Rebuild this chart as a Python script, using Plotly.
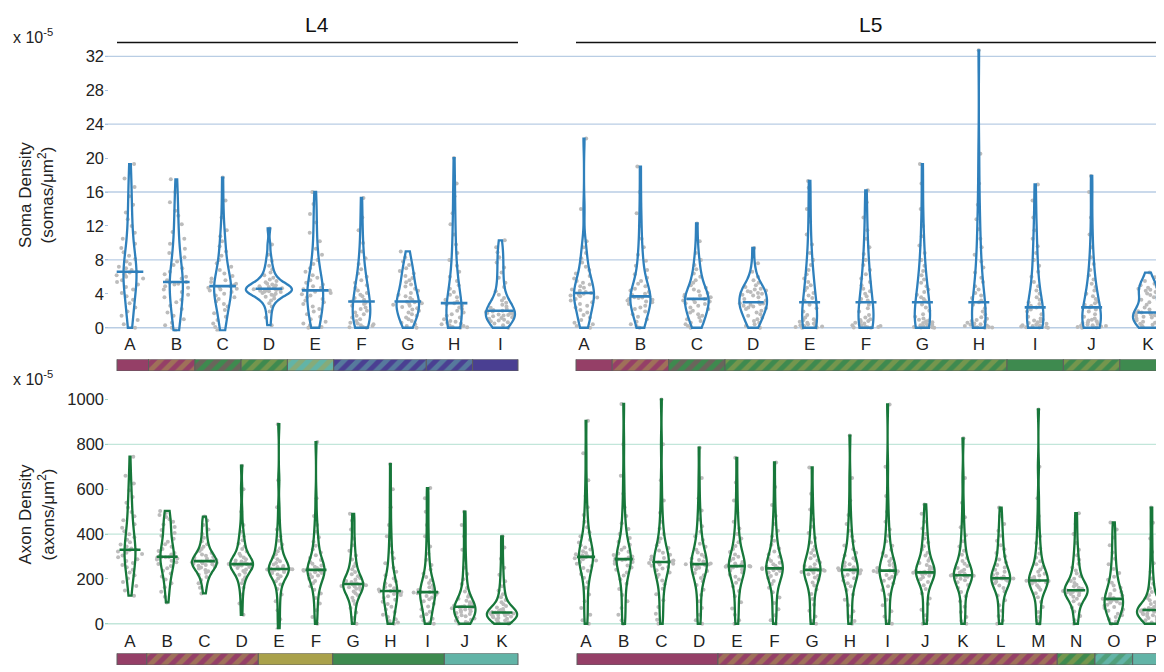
import numpy as np
import plotly.graph_objects as go

# ---------------- categories ----------------
L4_TOP_CATS = list("ABCDEFGHI")
L5_TOP_CATS = list("ABCDEFGHIJK")
L4_BOT_CATS = list("ABCDEFGHIJK")
L5_BOT_CATS = list("ABCDEFGHIJKLMNOP")

# ---------------- soma density (x 1e-5 somas/um^2), values read from the point clouds ----------------
SOMA_L4 = [
    [0.0, 0.4, 0.9, 1.4, 1.9, 2.4, 2.9, 3.3, 3.7, 4.1, 4.5, 4.8, 5.1, 5.4, 5.6, 5.8, 6.0, 6.2, 6.3, 6.5, 6.6, 6.8, 7.0, 7.2, 7.5, 7.8, 8.1, 8.5, 8.9, 9.4, 9.9, 10.5, 11.2, 12.0, 12.8, 13.6, 14.5, 15.5, 16.6, 17.6, 19.3],
    [-0.3, 0.0, 0.3, 0.6, 1.0, 1.4, 1.8, 2.2, 2.6, 3.0, 3.3, 3.6, 3.9, 4.2, 4.5, 4.7, 4.9, 5.1, 5.2, 5.3, 5.4, 5.6, 5.8, 6.0, 6.3, 6.6, 7.0, 7.4, 7.8, 8.3, 8.8, 9.3, 9.9, 10.5, 11.3, 12.2, 13.2, 13.8, 14.8, 16.0, 17.5],
    [-0.3, 0.1, 0.5, 0.9, 1.3, 1.7, 2.1, 2.5, 2.8, 3.1, 3.4, 3.6, 3.8, 4.0, 4.2, 4.4, 4.5, 4.6, 4.7, 4.8, 4.9, 5.0, 5.2, 5.4, 5.6, 5.8, 6.1, 6.4, 6.8, 7.2, 7.6, 8.0, 8.5, 9.0, 9.6, 10.2, 10.8, 11.5, 13.0, 15.0, 17.7],
    [0.3, 1.2, 1.9, 2.5, 2.9, 3.2, 3.45, 3.65, 3.8, 3.9, 4.0, 4.1, 4.2, 4.25, 4.3, 4.35, 4.4, 4.45, 4.5, 4.55, 4.6, 4.65, 4.7, 4.75, 4.8, 4.9, 5.0, 5.1, 5.2, 5.35, 5.5, 5.7, 5.9, 6.2, 6.5, 6.9, 7.3, 7.9, 8.6, 9.8, 11.7],
    [0.0, 0.1, 0.3, 0.5, 0.7, 1.0, 1.3, 1.6, 1.9, 2.2, 2.5, 2.8, 3.0, 3.2, 3.4, 3.6, 3.8, 3.95, 4.1, 4.25, 4.4, 4.55, 4.7, 4.9, 5.1, 5.3, 5.6, 5.9, 6.2, 6.6, 7.0, 7.5, 8.0, 8.6, 9.3, 10.2, 11.2, 12.4, 13.4, 14.6, 16.0],
    [0.0, 0.05, 0.1, 0.2, 0.3, 0.4, 0.5, 0.6, 0.8, 1.0, 1.2, 1.4, 1.6, 1.8, 2.0, 2.2, 2.4, 2.6, 2.8, 2.95, 3.1, 3.3, 3.5, 3.7, 3.9, 4.1, 4.4, 4.7, 5.0, 5.3, 5.6, 6.0, 6.4, 6.9, 7.5, 8.2, 9.0, 10.0, 11.5, 13.0, 15.3],
    [0.0, 0.2, 0.4, 0.6, 0.8, 1.0, 1.2, 1.4, 1.6, 1.8, 2.0, 2.15, 2.3, 2.45, 2.6, 2.7, 2.8, 2.9, 3.0, 3.05, 3.1, 3.3, 3.5, 3.7, 3.9, 4.1, 4.35, 4.6, 4.85, 5.1, 5.35, 5.6, 5.85, 6.1, 6.4, 6.7, 7.0, 7.4, 7.8, 8.3, 9.0],
    [0.0, 0.05, 0.1, 0.2, 0.3, 0.4, 0.5, 0.6, 0.7, 0.8, 1.0, 1.2, 1.4, 1.6, 1.8, 2.0, 2.2, 2.4, 2.6, 2.75, 2.9, 3.1, 3.3, 3.6, 3.9, 4.2, 4.6, 5.0, 5.5, 6.0, 6.6, 7.3, 8.0, 8.8, 9.8, 11.0, 12.2, 13.5, 15.5, 17.0, 20.0],
    [0.0, 0.3, 0.5, 0.65, 0.75, 0.85, 0.95, 1.05, 1.15, 1.25, 1.35, 1.45, 1.5, 1.55, 1.6, 1.68, 1.75, 1.8, 1.86, 1.92, 2.0, 2.1, 2.2, 2.35, 2.5, 2.7, 2.95, 3.2, 3.5, 3.9, 4.3, 4.8, 5.3, 5.9, 6.5, 7.1, 7.7, 8.3, 8.9, 9.5, 10.3],
]
SOMA_L5 = [
    [0.0, 0.2, 0.4, 0.6, 0.9, 1.2, 1.5, 1.8, 2.1, 2.4, 2.6, 2.8, 3.0, 3.2, 3.4, 3.55, 3.7, 3.8, 3.9, 4.0, 4.1, 4.2, 4.35, 4.5, 4.7, 4.9, 5.1, 5.3, 5.5, 5.8, 6.1, 6.4, 6.8, 7.2, 7.7, 8.2, 8.8, 9.5, 10.2, 14.0, 22.3],
    [0.0, 0.2, 0.4, 0.7, 1.0, 1.3, 1.6, 1.9, 2.2, 2.4, 2.6, 2.8, 3.0, 3.1, 3.2, 3.3, 3.4, 3.5, 3.55, 3.6, 3.7, 3.85, 4.0, 4.2, 4.4, 4.6, 4.9, 5.2, 5.5, 5.9, 6.3, 6.8, 7.3, 7.9, 8.6, 9.5, 10.5, 12.0, 13.5, 16.0, 19.0],
    [0.0, 0.2, 0.4, 0.6, 0.8, 1.0, 1.2, 1.4, 1.6, 1.8, 2.0, 2.2, 2.4, 2.6, 2.8, 2.9, 3.0, 3.1, 3.2, 3.3, 3.4, 3.5, 3.6, 3.7, 3.8, 3.9, 4.1, 4.3, 4.5, 4.7, 5.0, 5.3, 5.6, 6.0, 6.4, 6.9, 7.4, 8.0, 8.8, 10.2, 12.3],
    [0.0, 0.2, 0.4, 0.6, 0.8, 1.0, 1.2, 1.4, 1.6, 1.8, 2.0, 2.2, 2.3, 2.4, 2.5, 2.6, 2.7, 2.8, 2.85, 2.9, 3.0, 3.2, 3.4, 3.6, 3.8, 3.9, 4.0, 4.1, 4.2, 4.3, 4.4, 4.5, 4.6, 4.8, 5.0, 5.3, 5.6, 6.0, 6.6, 7.6, 9.4],
    [0.0, 0.03, 0.06, 0.1, 0.15, 0.2, 0.25, 0.3, 0.4, 0.5, 0.6, 0.7, 0.8, 0.9, 1.0, 1.2, 1.5, 1.9, 2.3, 2.7, 3.0, 3.2, 3.5, 3.8, 4.1, 4.4, 4.7, 5.0, 5.4, 5.8, 6.3, 6.8, 7.4, 8.0, 8.8, 9.8, 11.0, 12.5, 14.0, 16.5, 17.3],
    [0.0, 0.03, 0.06, 0.1, 0.15, 0.2, 0.25, 0.3, 0.4, 0.5, 0.6, 0.7, 0.8, 0.9, 1.0, 1.2, 1.5, 1.9, 2.3, 2.7, 3.0, 3.2, 3.4, 3.7, 4.0, 4.3, 4.6, 5.0, 5.4, 5.8, 6.3, 6.8, 7.4, 8.0, 8.7, 9.5, 10.5, 11.5, 13.0, 14.8, 16.2],
    [0.0, 0.03, 0.06, 0.1, 0.15, 0.2, 0.28, 0.36, 0.45, 0.55, 0.65, 0.75, 0.85, 0.95, 1.1, 1.3, 1.6, 2.0, 2.4, 2.75, 3.0, 3.2, 3.4, 3.6, 3.9, 4.2, 4.5, 4.9, 5.3, 5.7, 6.2, 6.7, 7.3, 8.0, 8.8, 9.7, 10.8, 12.0, 14.0, 17.0, 19.3],
    [0.0, 0.03, 0.06, 0.1, 0.15, 0.2, 0.27, 0.34, 0.42, 0.5, 0.6, 0.7, 0.8, 0.9, 1.05, 1.25, 1.55, 1.9, 2.3, 2.7, 3.0, 3.2, 3.5, 3.8, 4.1, 4.5, 4.9, 5.4, 5.9, 6.5, 7.1, 7.8, 8.6, 9.5, 10.5, 11.6, 12.8, 14.5, 17.0, 20.5, 32.7],
    [0.0, 0.03, 0.06, 0.1, 0.15, 0.2, 0.25, 0.3, 0.38, 0.46, 0.55, 0.65, 0.75, 0.85, 0.95, 1.1, 1.3, 1.6, 1.9, 2.15, 2.4, 2.6, 2.8, 3.0, 3.3, 3.6, 4.0, 4.4, 4.9, 5.4, 6.0, 6.6, 7.3, 8.0, 8.8, 9.6, 10.5, 11.5, 13.0, 15.0, 16.9],
    [0.0, 0.03, 0.06, 0.1, 0.15, 0.2, 0.25, 0.3, 0.38, 0.46, 0.55, 0.65, 0.75, 0.85, 0.95, 1.1, 1.3, 1.6, 1.9, 2.15, 2.4, 2.55, 2.7, 2.9, 3.1, 3.4, 3.7, 4.0, 4.4, 4.8, 5.2, 5.7, 6.2, 6.8, 7.5, 8.3, 9.5, 11.0, 13.0, 16.0, 17.9],
    [0.0, 0.08, 0.16, 0.26, 0.36, 0.48, 0.6, 0.72, 0.84, 0.96, 1.08, 1.2, 1.3, 1.4, 1.48, 1.56, 1.63, 1.69, 1.74, 1.78, 1.8, 1.95, 2.15, 2.4, 2.7, 3.0, 3.3, 3.6, 3.85, 4.05, 4.2, 4.35, 4.48, 4.6, 4.72, 4.85, 5.0, 5.2, 5.5, 5.95, 6.5],
]

# ---------------- axon density (x 1e-5 axons/um^2) ----------------
AXON_L4 = [
    [125, 148, 168, 186, 202, 216, 229, 241, 252, 262, 271, 280, 288, 296, 304, 311, 317, 322, 326, 328, 330, 336, 344, 353, 363, 374, 386, 399, 413, 428, 444, 461, 479, 498, 518, 540, 565, 595, 625, 660, 745],
    [95, 120, 143, 163, 181, 197, 211, 224, 236, 247, 257, 266, 274, 281, 287, 291, 294, 296, 297, 298, 299, 303, 309, 316, 324, 333, 343, 354, 366, 379, 392, 405, 418, 431, 443, 455, 466, 476, 485, 494, 503],
    [135, 160, 180, 195, 208, 218, 227, 234, 240, 246, 251, 255, 259, 262, 265, 268, 270, 272, 274, 276, 279, 281, 284, 287, 290, 294, 298, 303, 309, 316, 324, 333, 343, 355, 368, 383, 400, 420, 440, 460, 478],
    [40, 90, 130, 160, 180, 195, 207, 218, 227, 235, 242, 248, 253, 257, 260, 262, 264, 265, 265, 266, 266, 268, 270, 273, 277, 282, 288, 295, 303, 312, 322, 333, 345, 358, 372, 390, 410, 440, 500, 600, 705],
    [-25, 20, 60, 100, 130, 155, 175, 190, 202, 212, 220, 226, 231, 235, 238, 240, 241, 242, 243, 243, 244, 246, 249, 253, 258, 264, 271, 279, 288, 298, 310, 323, 337, 353, 370, 390, 420, 460, 520, 640, 890],
    [0, 30, 60, 90, 115, 135, 152, 167, 180, 191, 200, 208, 215, 221, 226, 230, 233, 236, 238, 239, 240, 242, 245, 249, 254, 260, 267, 275, 284, 294, 305, 318, 332, 348, 366, 386, 410, 440, 480, 560, 810],
    [0, 25, 50, 70, 88, 103, 116, 127, 136, 144, 151, 156, 160, 163, 166, 168, 170, 172, 174, 176, 177, 179, 182, 186, 191, 197, 204, 212, 221, 231, 243, 256, 270, 286, 304, 325, 350, 380, 420, 460, 490],
    [0, 5, 12, 20, 30, 40, 52, 64, 76, 88, 98, 107, 115, 122, 128, 133, 137, 140, 142, 144, 146, 149, 153, 158, 164, 171, 180, 190, 202, 216, 232, 250, 270, 292, 318, 350, 390, 440, 520, 600, 712],
    [0, 6, 14, 22, 32, 42, 53, 65, 77, 89, 100, 109, 117, 124, 129, 133, 136, 138, 139, 140, 141, 143, 146, 150, 156, 163, 172, 182, 194, 208, 224, 242, 262, 285, 312, 345, 390, 440, 500, 560, 605],
    [0, 4, 8, 13, 18, 23, 28, 33, 38, 43, 48, 52, 56, 60, 63, 66, 69, 71, 73, 74, 76, 78, 81, 85, 90, 96, 103, 111, 120, 131, 144, 159, 177, 198, 222, 250, 285, 330, 390, 440, 500],
    [0, 3, 6, 10, 14, 18, 22, 26, 29, 32, 35, 37, 39, 41, 43, 45, 46, 47, 48, 49, 50, 52, 54, 57, 61, 66, 72, 79, 87, 96, 106, 118, 132, 148, 167, 190, 218, 250, 290, 340, 390],
]
AXON_L5 = [
    [0, 15, 40, 70, 100, 130, 160, 185, 205, 222, 236, 248, 258, 267, 275, 282, 288, 292, 295, 297, 298, 301, 305, 310, 316, 323, 331, 340, 350, 362, 375, 390, 408, 430, 455, 485, 520, 570, 640, 760, 905],
    [0, 15, 40, 70, 100, 128, 155, 178, 198, 215, 229, 241, 251, 260, 268, 275, 280, 284, 286, 287, 288, 291, 295, 300, 306, 313, 321, 330, 340, 352, 366, 382, 400, 422, 448, 480, 520, 580, 660, 800, 980],
    [0, 18, 45, 75, 105, 132, 156, 176, 193, 207, 219, 229, 238, 246, 253, 259, 264, 268, 271, 273, 275, 278, 282, 287, 293, 300, 308, 317, 327, 338, 350, 364, 380, 400, 425, 455, 495, 550, 640, 800, 1000],
    [0, 15, 40, 70, 100, 128, 152, 173, 190, 204, 216, 226, 235, 243, 250, 255, 259, 262, 264, 265, 266, 269, 273, 278, 284, 291, 299, 308, 318, 330, 343, 357, 373, 390, 410, 435, 465, 505, 560, 650, 785],
    [0, 15, 40, 68, 96, 122, 146, 166, 183, 197, 209, 219, 228, 236, 242, 247, 251, 254, 255, 256, 257, 260, 264, 269, 275, 282, 290, 299, 309, 320, 333, 347, 363, 380, 400, 425, 455, 495, 550, 630, 740],
    [0, 15, 38, 65, 92, 117, 140, 160, 177, 191, 203, 213, 222, 229, 235, 239, 242, 244, 245, 246, 247, 250, 254, 259, 265, 272, 280, 289, 299, 310, 322, 336, 352, 370, 390, 415, 445, 480, 530, 610, 719],
    [0, 12, 32, 58, 85, 110, 133, 153, 170, 184, 196, 206, 214, 221, 227, 231, 234, 236, 238, 239, 240, 243, 247, 252, 258, 265, 273, 282, 292, 303, 315, 329, 345, 362, 382, 405, 432, 465, 510, 580, 697],
    [0, 12, 32, 56, 82, 107, 130, 150, 167, 181, 193, 203, 211, 218, 224, 229, 233, 236, 238, 239, 240, 243, 247, 252, 258, 265, 273, 282, 292, 304, 317, 332, 349, 368, 390, 415, 445, 485, 550, 650, 839],
    [0, 12, 32, 56, 82, 107, 130, 150, 167, 181, 192, 202, 210, 217, 223, 228, 231, 234, 235, 236, 237, 240, 244, 249, 255, 262, 270, 279, 290, 302, 315, 330, 348, 368, 392, 420, 455, 500, 570, 700, 978],
    [0, 15, 38, 62, 88, 112, 135, 155, 172, 186, 198, 207, 214, 220, 224, 226, 227, 228, 228, 229, 229, 232, 236, 241, 247, 254, 262, 271, 281, 292, 304, 317, 331, 346, 362, 380, 400, 425, 455, 490, 532],
    [0, 12, 30, 52, 76, 100, 122, 142, 159, 173, 185, 194, 201, 206, 210, 212, 214, 215, 215, 216, 216, 219, 223, 228, 234, 241, 249, 258, 268, 280, 293, 308, 325, 345, 368, 395, 430, 475, 540, 650, 827],
    [0, 14, 34, 58, 82, 105, 126, 144, 159, 171, 180, 187, 192, 196, 199, 200, 201, 202, 202, 203, 203, 206, 211, 217, 224, 232, 241, 251, 262, 274, 287, 301, 316, 332, 350, 370, 392, 415, 445, 480, 518],
    [0, 12, 30, 52, 75, 97, 118, 136, 151, 163, 172, 179, 184, 187, 189, 190, 191, 192, 192, 193, 193, 197, 202, 208, 215, 223, 232, 242, 253, 265, 279, 295, 313, 335, 360, 390, 430, 480, 560, 700, 956],
    [0, 15, 35, 55, 72, 87, 100, 111, 120, 127, 133, 137, 140, 142, 144, 145, 146, 147, 148, 148, 149, 152, 156, 161, 167, 174, 182, 191, 201, 212, 224, 237, 251, 267, 285, 305, 330, 360, 400, 445, 493],
    [0, 10, 20, 30, 38, 45, 52, 58, 64, 70, 75, 80, 85, 90, 95, 99, 103, 106, 108, 110, 111, 115, 120, 126, 133, 141, 150, 160, 171, 183, 196, 210, 226, 244, 265, 290, 318, 350, 385, 420, 452],
    [0, 5, 10, 15, 20, 25, 30, 34, 38, 42, 45, 48, 51, 53, 55, 57, 58, 59, 60, 60, 61, 63, 66, 70, 75, 81, 88, 96, 105, 115, 127, 141, 158, 178, 202, 232, 270, 320, 380, 450, 518],
]

# ---------------- colour strips (first cat, last cat, base colour, stripe colour) ----------------
MAG, OLV, GRN, TEA, BLU = "#953f67", "#a9a14b", "#3e8a4f", "#62b4a7", "#4a3f92"
TOP_L4_STRIP = [("A", "A", MAG, None), ("B", "B", MAG, OLV), ("C", "C", GRN, MAG), ("D", "D", GRN, OLV),
                ("E", "E", TEA, OLV), ("F", "G", BLU, TEA), ("H", "H", BLU, TEA), ("I", "I", BLU, None)]
TOP_L5_STRIP = [("A", "A", MAG, None), ("B", "B", MAG, OLV), ("C", "C", GRN, MAG), ("D", "H", GRN, OLV),
                ("I", "I", GRN, None), ("J", "J", GRN, OLV), ("K", "K", GRN, None)]
BOT_L4_STRIP = [("A", "A", MAG, None), ("B", "D", MAG, OLV), ("E", "F", OLV, None), ("G", "I", GRN, None),
                ("J", "K", TEA, None)]
BOT_L5_STRIP = [("A", "D", MAG, None), ("E", "M", MAG, OLV), ("N", "N", GRN, OLV), ("O", "O", TEA, GRN),
                ("P", "P", TEA, None)]

SOMA_TICKS = [0, 4, 8, 12, 16, 20, 24, 28, 32]
SOMA_GRID = [0, 8, 16, 24, 32]
AXON_TICKS = [0, 200, 400, 600, 800, 1000]
AXON_GRID = [0, 400, 800]

# ---------------- layout (page-pixel based placement; page body has an 8px margin) ----------------
OFF = 8
FW, FH = 1164, 672 - OFF
ML = 105 - OFF
W = FW - ML
BLUE_LINE, GREEN_LINE = "#2f80bc", "#17773a"
PT_COL = "#bcbcbc"
FONT = "Liberation Sans, Arial, sans-serif"

PANELS = [
    dict(row=1, cats=L4_TOP_CATS, data=SOMA_L4, x0=25, dx=46.3, vw=46, pw=32, med=19, col=BLUE_LINE,
         strip=TOP_L4_STRIP, s0=12, s1=413, edge=0.4),
    dict(row=1, cats=L5_TOP_CATS, data=SOMA_L5, x0=479, dx=56.4, vw=30, pw=32, med=15, col=BLUE_LINE,
         strip=TOP_L5_STRIP, s0=471, s1=1120, edge=0.5),
    dict(row=2, cats=L4_BOT_CATS, data=AXON_L4, x0=25, dx=37.2, vw=30, pw=28, med=15, col=GREEN_LINE,
         strip=BOT_L4_STRIP, s0=12, s1=413, edge=0.45),
    dict(row=2, cats=L5_BOT_CATS, data=AXON_L5, x0=481, dx=37.7, vw=29, pw=28, med=13, col=GREEN_LINE,
         strip=BOT_L5_STRIP, s0=472, s1=1120, edge=0.5),
]

def py(px):
    """page pixel (from top) -> paper fraction"""
    return 1 - (px - OFF) / FH

def pxr(px):
    """page pixel (from left) -> paper fraction"""
    return (px - 105) / W

fig = go.Figure()
ticks = {1: ([], []), 2: ([], [])}

for p in PANELS:
    xa = "x" if p["row"] == 1 else "x2"
    ya = "y" if p["row"] == 1 else "y2"
    ys_ax = "y3" if p["row"] == 1 else "y4"
    pos = [p["x0"] + i * p["dx"] for i in range(len(p["cats"]))]
    ticks[p["row"]][0].extend(pos)
    ticks[p["row"]][1].extend(p["cats"])
    xs, ys = [], []
    for x, vals in zip(pos, p["data"]):
        xs += [x] * len(vals)
        ys += list(vals)
    fig.add_trace(go.Violin(x=xs, y=ys, xaxis=xa, yaxis=ya, points="all", jitter=1, pointpos=0,
                            width=p["pw"], spanmode="hard", marker=dict(size=4, color=PT_COL),
                            line=dict(width=0, color="rgba(0,0,0,0)"), fillcolor="rgba(0,0,0,0)",
                            showlegend=False, hoverinfo="skip"))
    fig.add_trace(go.Violin(x=xs, y=ys, xaxis=xa, yaxis=ya, points=False, width=p["vw"], spanmode="hard",
                            line=dict(width=2.3, color=p["col"]), fillcolor="rgba(0,0,0,0)",
                            showlegend=False, hoverinfo="skip"))
    fig.add_trace(go.Scatter(x=pos, y=[float(np.median(v)) for v in p["data"]], xaxis=xa, yaxis=ya,
                             mode="markers", showlegend=False, hoverinfo="skip",
                             marker=dict(symbol="line-ew", size=p["med"], color=p["col"],
                                         line=dict(color=p["col"], width=2.6))))
    idx = {c: i for i, c in enumerate(p["cats"])}
    for k, (c0, c1, bg, fg) in enumerate(p["strip"]):
        start = p["s0"] if k == 0 else pos[idx[c0]] - p["dx"] + p["edge"] * p["dx"]
        end = p["s1"] if k == len(p["strip"]) - 1 else pos[idx[c1]] + p["edge"] * p["dx"]
        pat = dict(shape="/", fgcolor=fg, bgcolor=bg, size=10, solidity=0.5) if fg else dict(shape="")
        fig.add_trace(go.Bar(x=[end - start], base=[start], y=[0], orientation="h", width=1,
                             xaxis=xa, yaxis=ys_ax, showlegend=False, hoverinfo="skip",
                             marker=dict(color=bg, line=dict(color="#5e5e5e", width=1), pattern=pat)))

for v in SOMA_GRID:
    fig.add_shape(type="line", xref="x domain", x0=0, x1=1, yref="y", y0=v, y1=v, layer="below",
                  line=dict(color="#b9cde4", width=1.3))
for v in AXON_GRID:
    fig.add_shape(type="line", xref="x2 domain", x0=0, x1=1, yref="y2", y0=v, y1=v, layer="below",
                  line=dict(color="#c2e6da", width=1.3))

for (x0, x1, xc, txt) in [(12, 413, 212, "L4"), (471, W, 765, "L5")]:
    fig.add_shape(type="line", xref="x", x0=x0, x1=x1, yref="paper", y0=py(37), y1=py(37),
                  line=dict(color="#111", width=1.5))
    fig.add_annotation(x=xc, xref="x", y=py(19), yref="paper", xanchor="center", yanchor="middle",
                       text=txt, showarrow=False, font=dict(size=21, color="#111", family=FONT))

for yy in (30, 378):
    fig.add_annotation(x=pxr(11), xref="paper", xanchor="left", y=py(yy), yref="paper", yanchor="middle",
                       text="x 10<sup>-5</sup>", showarrow=False, font=dict(size=16, color="#222", family=FONT))

for yy, txt in [(192, "Soma Density<br>(somas/μm<sup>2</sup>)"), (517, "Axon Density<br>(axons/μm<sup>2</sup>)")]:
    fig.add_annotation(x=pxr(37), xref="paper", y=py(yy), yref="paper", xanchor="center", yanchor="middle",
                       textangle=-90, text=txt, showarrow=False,
                       font=dict(size=17, color="#222", family=FONT))

xcommon = dict(range=[0, W], showgrid=False, zeroline=False, showline=False, ticks="",
               tickfont=dict(size=17, color="#222", family=FONT))
ycommon = dict(showgrid=False, zeroline=False, showline=False, ticks="inside", ticklen=3,
               tickfont=dict(size=16.5, color="#222", family=FONT))

fig.update_layout(
    width=FW, height=FH, margin=dict(l=ML, r=0, t=0, b=0),
    paper_bgcolor="white", plot_bgcolor="rgba(0,0,0,0)",
    violinmode="overlay", barmode="overlay", showlegend=False,
    font=dict(family=FONT, color="#222"),
    xaxis=dict(domain=[0, 1], anchor="y", tickvals=ticks[1][0], ticktext=ticks[1][1], **xcommon),
    xaxis2=dict(domain=[0, 1], anchor="y2", tickvals=ticks[2][0], ticktext=ticks[2][1], **xcommon),
    yaxis=dict(domain=[py(330.9), py(42.4)], range=[-0.45, 33], anchor="x", tickvals=SOMA_TICKS,
               tickcolor="#a9c3e0", **ycommon),
    yaxis2=dict(domain=[py(633.7), py(396.6)], range=[-25, 1015], anchor="x2", tickvals=AXON_TICKS,
                tickcolor="#9fd8c4", **ycommon),
    yaxis3=dict(domain=[py(371), py(359)], range=[-0.5, 0.5], anchor="x", visible=False),
    yaxis4=dict(domain=[py(670), py(658)], range=[-0.5, 0.5], anchor="x2", visible=False),
)

fig.write_html("out.html")
